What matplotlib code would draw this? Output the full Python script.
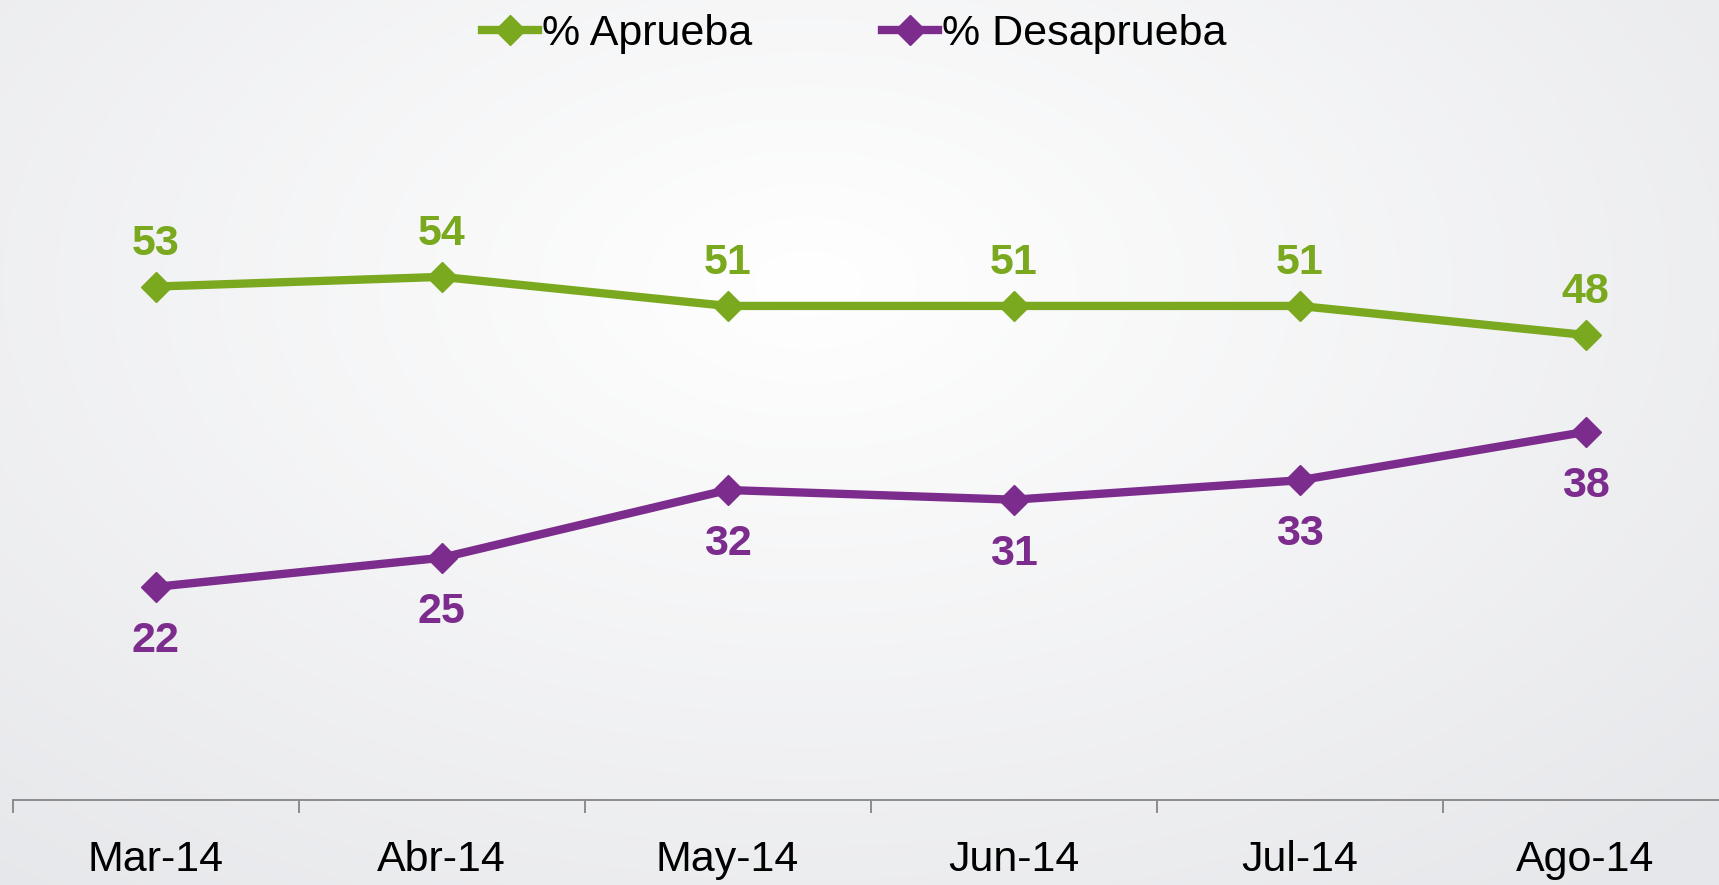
import numpy as np
import matplotlib
matplotlib.use("Agg")
import matplotlib.pyplot as plt
from matplotlib.lines import Line2D

plt.rcParams['font.family'] = ['Liberation Sans', 'DejaVu Sans']

# datos
meses = ['Mar-14', 'Abr-14', 'May-14', 'Jun-14', 'Jul-14', 'Ago-14']
aprueba = [53, 54, 51, 51, 51, 48]
desaprueba = [22, 25, 32, 31, 33, 38]

verde = '#7AA81E'
morado = '#7B2C8C'

fig = plt.figure(figsize=(17.19, 8.85), dpi=100)

# fondo con degradado radial
bg = fig.add_axes([0, 0, 1, 1], zorder=-10)
yy, xx = np.mgrid[0:1:300j, 0:1:600j]
r = np.sqrt(((xx - 0.47) / 0.75) ** 2 + ((yy - 0.32) / 0.9) ** 2)
r = np.clip(r, 0, 1)
c0 = np.array([1.0, 1.0, 1.0])
c1 = np.array([230, 231, 234]) / 255
img = c0[None, None, :] * (1 - r[..., None]) + c1[None, None, :] * r[..., None]
bg.imshow(img, extent=[0, 1, 0, 1], aspect='auto', origin='upper', interpolation='bilinear')
bg.axis('off')

ax = fig.add_axes([12.5 / 1719, 85 / 885, 1716 / 1719, 775 / 885])
ax.patch.set_alpha(0)
x = np.arange(len(meses))

ax.plot(x, aprueba, color=verde, lw=6, marker='D', ms=15, zorder=3)
ax.plot(x, desaprueba, color=morado, lw=6, marker='D', ms=15, zorder=3)

for i in range(len(meses)):
    ax.annotate(str(aprueba[i]), (x[i], aprueba[i]), xytext=(0, 31), textcoords='offset points',
                ha='center', va='center', fontsize=31, fontweight='bold', color=verde)
    ax.annotate(str(desaprueba[i]), (x[i], desaprueba[i]), xytext=(0, -39), textcoords='offset points',
                ha='center', va='center', fontsize=31, fontweight='bold', color=morado)

ax.set_xlim(-0.5, 5.5)
ax.set_ylim(0, 80)
ax.set_xticks(x)
ax.set_xticklabels(meses, fontsize=31)
ax.set_xticks(np.arange(-0.5, 6, 1), minor=True)
ax.tick_params(axis='x', which='major', length=0, pad=29)
ax.tick_params(axis='x', which='minor', length=9.5, width=1.4, color='#8C8C8C', direction='out')
ax.set_yticks([])
for s in ['top', 'right', 'left']:
    ax.spines[s].set_visible(False)
ax.spines['bottom'].set_color('#8C8C8C')
ax.spines['bottom'].set_linewidth(1.4)

handles = [Line2D([], [], color=verde, lw=6, marker='D', ms=15),
           Line2D([], [], color=morado, lw=6, marker='D', ms=15)]
fig.legend(handles, ['% Aprueba', '% Desaprueba'], loc='center', bbox_to_anchor=(0.497, 0.962),
           ncol=2, frameon=False, fontsize=31, handlelength=1.3, handletextpad=0.1,
           columnspacing=3.0)

fig.savefig('out.png', dpi=100)
